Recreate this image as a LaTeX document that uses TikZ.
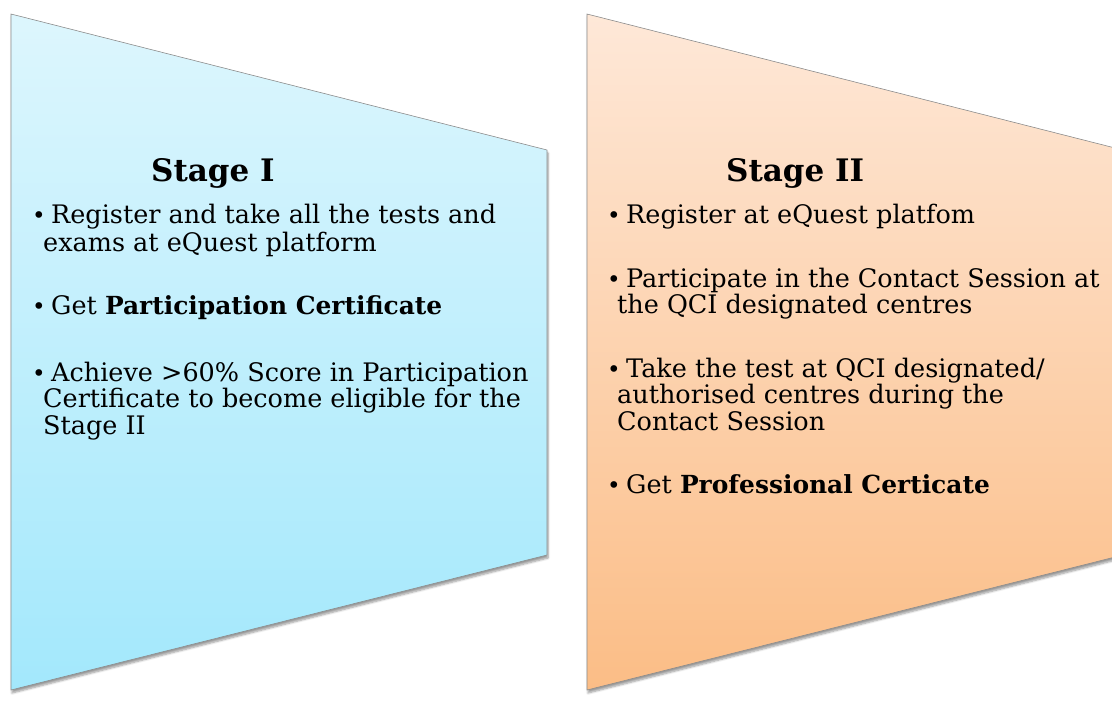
\documentclass[tikz,border=0pt]{standalone}
\usepackage{fontspec}
\setmainfont{DejaVu Serif}
\usetikzlibrary{shadows.blur}
\definecolor{cyantop}{HTML}{DDF6FD}
\definecolor{cyanbot}{HTML}{A3E8FC}
\definecolor{orgtop}{HTML}{FEE8D8}
\definecolor{orgbot}{HTML}{FBBD86}
\newcommand{\bem}[1]{{\fontsize{24.9}{30}\selectfont\bfseries #1}}
\tikzset{
  panel/.style={draw=black!45, line width=0.6pt,
    blur shadow={shadow xshift=1pt, shadow yshift=-3pt, shadow blur steps=6, shadow opacity=40}},
  txt/.style={anchor=base west, inner sep=0pt, font=\fontsize{25.5}{30}\selectfont},
  bul/.style={anchor=base west, inner sep=0pt, font=\fontsize{23}{27}\selectfont},
  ttl/.style={anchor=base west, inner sep=0pt, font=\fontsize{31}{36}\selectfont\bfseries}
}
\begin{document}
\begin{tikzpicture}[x=1pt,y=-1pt]
\useasboundingbox (0,0) rectangle (1112,702);
\shade[panel, top color=cyantop, bottom color=cyanbot] (11,14) -- (547,150) -- (547,555) -- (11,690) -- cycle;
\shade[panel, top color=orgtop, bottom color=orgbot] (587,14) -- (1123,150) -- (1123,555) -- (587,690) -- cycle;

% Stage I
\node[ttl] (t1) at (151,181) {Stage I};
\node[bul] (a1b) at (32,223) {•};
\node[txt] (a1a) at (51,223) {Register and take all the tests and};
\node[txt] (a1c) at (43,251) {exams at eQuest platform};
\node[bul] (a2b) at (32,314) {•};
\node[txt] (a2a) at (51,314) {Get \bem{Participation Certificate}};
\node[bul] (a3b) at (32,381) {•};
\node[txt] (a3a) at (51,381) {Achieve >60\% Score in Participation};
\node[txt] (a3c) at (43,407) {Certificate to become eligible for the};
\node[txt] (a3d) at (43,434) {Stage II};

% Stage II
\node[ttl] (t2) at (726,181) {Stage II};
\node[bul] (b1b) at (607,223) {•};
\node[txt] (b1a) at (626,223) {Register at eQuest platfom};
\node[bul] (b2b) at (607,287) {•};
\node[txt] (b2a) at (626,287) {Participate in the Contact Session at};
\node[txt] (b2c) at (617,313) {the QCI designated centres};
\node[bul] (b3b) at (607,377) {•};
\node[txt] (b3a) at (626,377) {Take the test at QCI designated/};
\node[txt] (b3c) at (617,403) {authorised centres during the};
\node[txt] (b3d) at (617,430) {Contact Session};
\node[bul] (b4b) at (607,493) {•};
\node[txt] (b4a) at (626,493) {Get \bem{Professional Certicate}};
\end{tikzpicture}
\end{document}
